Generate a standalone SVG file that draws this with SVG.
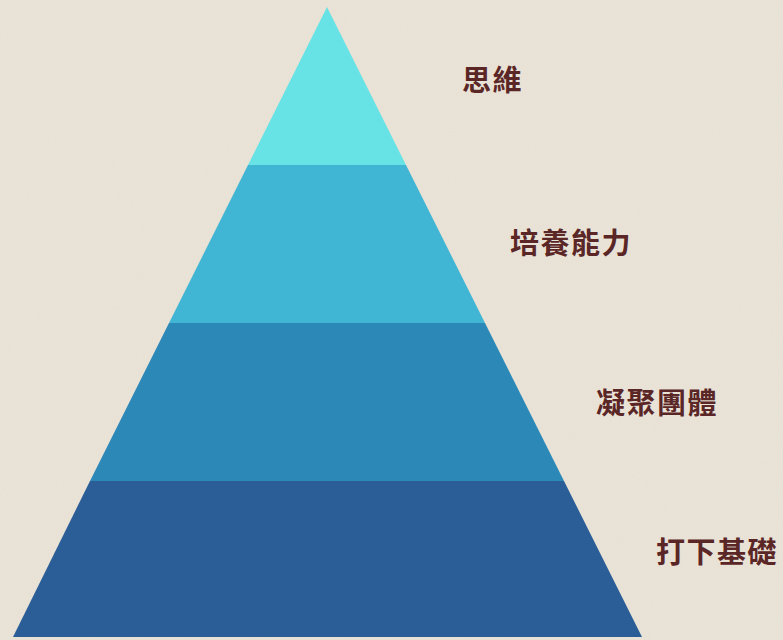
<svg xmlns="http://www.w3.org/2000/svg" width="783" height="640" viewBox="0 0 783 640">
  <style>
    .label { font-family: "Noto Sans CJK TC", "Noto Sans CJK SC", sans-serif; font-size: 29px; font-weight: 700; fill: #5A2626; letter-spacing: 1.5px; }
  </style>
  <defs>
    <filter id="paper" x="0" y="0" width="100%" height="100%">
      <feTurbulence type="fractalNoise" baseFrequency="0.9" numOctaves="2" seed="3" result="n"/>
      <feColorMatrix in="n" type="matrix" values="0 0 0 0 0.55  0 0 0 0 0.48  0 0 0 0 0.40  0 0 0 0.35 -0.05" result="c"/>
      <feComposite in="c" in2="SourceGraphic" operator="in"/>
    </filter>
  </defs>
  <rect id="background" width="783" height="640" fill="#EAE3D7"/>
  <rect width="783" height="640" fill="#EAE3D7" filter="url(#paper)" opacity="0.25"/>
  <g id="layer-1">
    <polygon points="327,7 406,165 248,165" fill="#67E3E6"/>
    <text class="label" x="462" y="91">思維</text>
  </g>
  <g id="layer-2">
    <polygon points="248,165 406,165 485,323 169,323" fill="#41B5D4"/>
    <text class="label" x="510" y="254">培養能力</text>
  </g>
  <g id="layer-3">
    <polygon points="169,323 485,323 564,481 90,481" fill="#2C88B6"/>
    <text class="label" x="596" y="414">凝聚團體</text>
  </g>
  <g id="layer-4">
    <polygon points="90,481 564,481 642,637 13,637" fill="#2B5D97"/>
    <text class="label" x="656" y="563">打下基礎</text>
  </g>
  <g id="connectors"/>
</svg>
